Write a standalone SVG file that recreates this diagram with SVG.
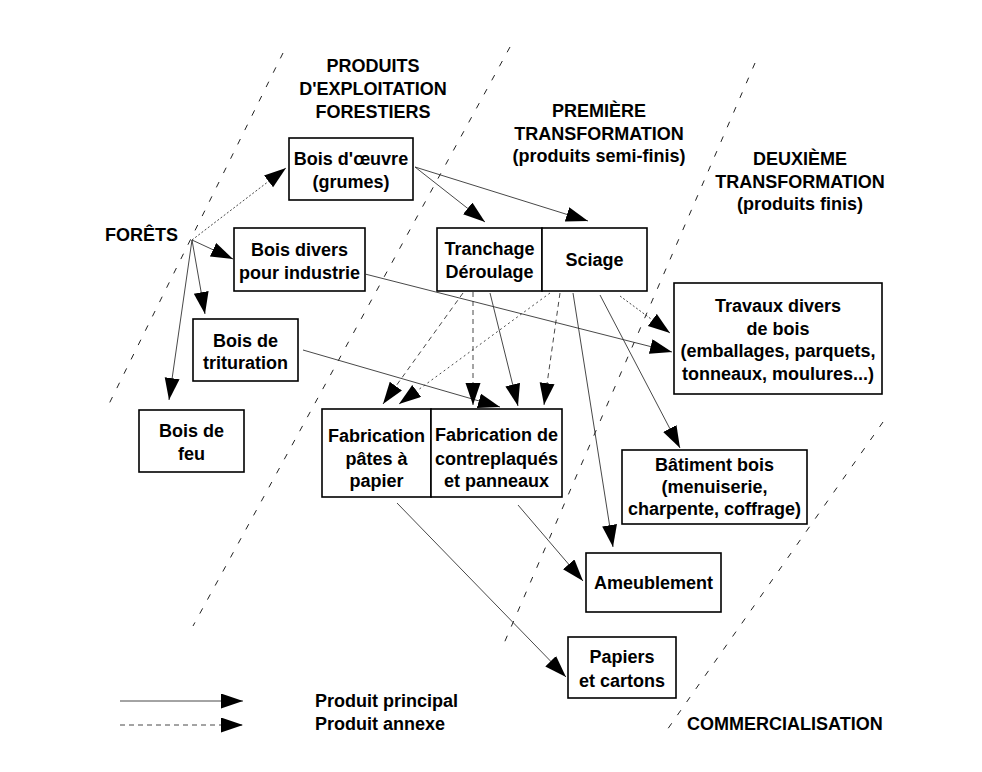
<svg xmlns="http://www.w3.org/2000/svg" width="982" height="772" viewBox="0 0 982 772">
<style>
text{font-family:"Liberation Sans",Arial,sans-serif;font-weight:bold;font-size:18px;fill:#000}
.c{text-anchor:middle}
.box{fill:#fff;stroke:#000;stroke-width:1.6}
.sep{fill:none;stroke:#222;stroke-width:1;stroke-dasharray:6 10}
.p{fill:none;stroke:#333;stroke-width:0.9}
.a{fill:none;stroke:#333;stroke-width:0.9;stroke-dasharray:5 4}
</style>
<defs>
<marker id="ah" markerUnits="userSpaceOnUse" markerWidth="23" markerHeight="16" refX="22" refY="7.5" orient="auto" viewBox="0 0 23 16">
<path d="M0,0 L22,7.5 L0,15 Z" fill="#000"/>
</marker>
</defs>
<rect width="982" height="772" fill="#fff"/>

<g id="separators">
<line class="sep" x1="283" y1="53" x2="107" y2="408"/>
<line class="sep" x1="510" y1="47" x2="193" y2="626"/>
<line class="sep" x1="755" y1="63" x2="502" y2="648"/>
<line class="sep" x1="883" y1="422" x2="667" y2="730"/>
</g>

<g id="headers">
<text class="c" x="373" y="72">PRODUITS</text>
<text class="c" x="373" y="95">D'EXPLOITATION</text>
<text class="c" x="373" y="118">FORESTIERS</text>
<text class="c" x="599" y="117">PREMIÈRE</text>
<text class="c" x="599" y="140">TRANSFORMATION</text>
<text class="c" x="599" y="162">(produits semi-finis)</text>
<text class="c" x="800" y="165">DEUXIÈME</text>
<text class="c" x="800" y="188">TRANSFORMATION</text>
<text class="c" x="800" y="210">(produits finis)</text>
<text x="687" y="730">COMMERCIALISATION</text>
</g>

<g id="forets"><text x="105" y="241">FORÊTS</text></g>

<g id="n-oeuvre"><rect class="box" x="289" y="138" width="124" height="62"/>
<text class="c" x="351" y="165">Bois d'œuvre</text><text class="c" x="351" y="188">(grumes)</text></g>

<g id="n-divers"><rect class="box" x="234" y="228" width="131" height="63"/>
<text class="c" x="299.5" y="256">Bois divers</text><text class="c" x="299.5" y="279">pour industrie</text></g>

<g id="n-trituration"><rect class="box" x="193" y="319" width="105" height="62"/>
<text class="c" x="245.5" y="347">Bois de</text><text class="c" x="245.5" y="369">trituration</text></g>

<g id="n-feu"><rect class="box" x="139" y="410" width="105" height="62"/>
<text class="c" x="191.5" y="437">Bois de</text><text class="c" x="191.5" y="460">feu</text></g>

<g id="n-tranchage"><rect class="box" x="437" y="228" width="105" height="63"/>
<text class="c" x="489.5" y="255">Tranchage</text><text class="c" x="489.5" y="278">Déroulage</text></g>

<g id="n-sciage"><rect class="box" x="542" y="228" width="105" height="63"/>
<text class="c" x="594.5" y="266">Sciage</text></g>

<g id="n-travaux"><rect class="box" x="674" y="283" width="208" height="111"/>
<text class="c" x="778" y="312">Travaux divers</text><text class="c" x="778" y="335">de bois</text>
<text class="c" x="778" y="357">(emballages, parquets,</text><text class="c" x="778" y="380">tonneaux, moulures...)</text></g>

<g id="n-pates"><rect class="box" x="322" y="409" width="109" height="88"/>
<text class="c" x="376.5" y="442">Fabrication</text><text class="c" x="376.5" y="465">pâtes à</text><text class="c" x="376.5" y="487">papier</text></g>

<g id="n-contreplaques"><rect class="box" x="431" y="409" width="131" height="88"/>
<text class="c" x="496.5" y="441">Fabrication de</text><text class="c" x="496.5" y="465">contreplaqués</text><text class="c" x="496.5" y="487">et panneaux</text></g>

<g id="n-batiment"><rect class="box" x="622" y="450" width="185" height="74"/>
<text class="c" x="714.5" y="471">Bâtiment bois</text><text class="c" x="714.5" y="493">(menuiserie,</text><text class="c" x="714.5" y="515">charpente, coffrage)</text></g>

<g id="n-ameublement"><rect class="box" x="586" y="553" width="135" height="59"/>
<text class="c" x="653.5" y="589">Ameublement</text></g>

<g id="n-papiers"><rect class="box" x="568" y="637" width="108" height="61"/>
<text class="c" x="622" y="663">Papiers</text><text class="c" x="622" y="687">et cartons</text></g>

<g id="connectors" marker-end="url(#ah)">
<line class="a" x1="192" y1="240" x2="286" y2="168" marker-end="url(#ah)" style="stroke-dasharray:2 2"/>
<line class="p" x1="192" y1="240" x2="233" y2="259" marker-end="url(#ah)"/>
<line class="p" x1="192" y1="240" x2="205" y2="314" marker-end="url(#ah)"/>
<line class="p" x1="192" y1="240" x2="169" y2="400" marker-end="url(#ah)"/>
<line class="p" x1="415" y1="167" x2="485" y2="222" marker-end="url(#ah)"/>
<line class="p" x1="415" y1="167" x2="588" y2="221" marker-end="url(#ah)"/>
<line class="p" x1="365" y1="274" x2="672" y2="352" marker-end="url(#ah)"/>
<line class="a" x1="620" y1="296" x2="670" y2="333" marker-end="url(#ah)" style="stroke-dasharray:2 2"/>
<line class="p" x1="303" y1="350" x2="500" y2="407" marker-end="url(#ah)"/>
<line class="a" x1="463" y1="293" x2="383" y2="404" marker-end="url(#ah)"/>
<line class="a" x1="550" y1="293" x2="399" y2="404" marker-end="url(#ah)" style="stroke-dasharray:2 3"/>
<line class="a" x1="473" y1="292" x2="473" y2="405" marker-end="url(#ah)"/>
<line class="p" x1="490" y1="293" x2="518" y2="406" marker-end="url(#ah)"/>
<line class="a" x1="560" y1="293" x2="544" y2="405" marker-end="url(#ah)"/>
<line class="p" x1="573" y1="293" x2="613" y2="547" marker-end="url(#ah)"/>
<line class="p" x1="600" y1="295" x2="680" y2="448" marker-end="url(#ah)"/>
<line class="p" x1="397" y1="503" x2="566" y2="677" marker-end="url(#ah)"/>
<line class="p" x1="518" y1="505" x2="583" y2="581" marker-end="url(#ah)"/>
</g>

<g id="legend">
<line class="p" x1="120" y1="701" x2="243" y2="701" marker-end="url(#ah)"/>
<line class="a" x1="120" y1="725" x2="243" y2="725" marker-end="url(#ah)"/>
<text x="315" y="707">Produit principal</text>
<text x="315" y="730">Produit annexe</text>
</g>
</svg>
